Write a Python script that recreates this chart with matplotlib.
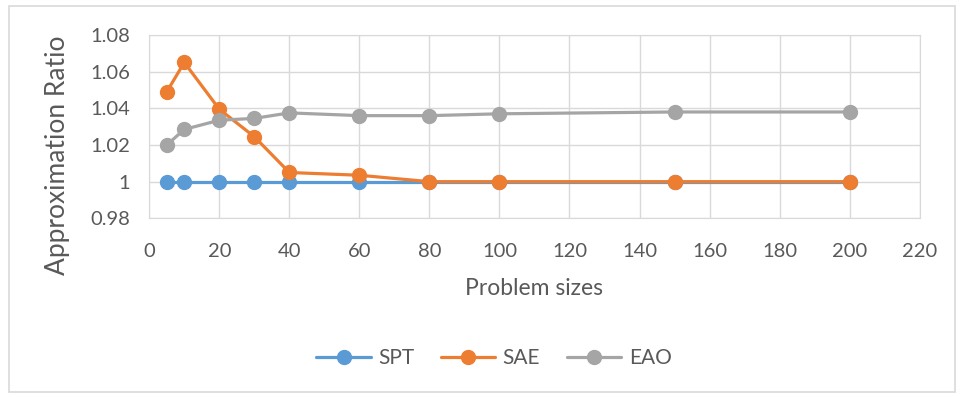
import matplotlib
matplotlib.use("Agg")
from matplotlib import pyplot as plt
from matplotlib.patches import Rectangle
from matplotlib.ticker import FuncFormatter

# problem sizes on the x axis
sizes = [5, 10, 20, 30, 40, 60, 80, 100, 150, 200]

# approximation ratio per method
spt = [1.0, 1.0, 1.0, 1.0, 1.0, 1.0, 1.0, 1.0, 1.0, 1.0]
sae = [1.049, 1.065, 1.0395, 1.0245, 1.005, 1.0035, 1.0, 1.0, 1.0, 1.0]
eao = [1.020, 1.0285, 1.0335, 1.0345, 1.0375, 1.036, 1.036, 1.037, 1.038, 1.038]

series_names = ["SPT", "SAE", "EAO"]
series_colors = ["#5B9BD5", "#ED7D31", "#A5A5A5"]

plt.rcParams['font.family'] = ['Lato', 'DejaVu Sans']
text_color = "#595959"
grid_color = "#D9D9D9"

fig = plt.figure(figsize=(9.63, 3.97), dpi=100)
fig.patches.append(Rectangle((0.009, 0.012), 0.983, 0.972, transform=fig.transFigure,
                             fill=False, edgecolor=grid_color, linewidth=1.2))

ax = fig.add_axes([0.155, 0.450, 0.800, 0.462])

for vals, name, col in zip([spt, sae, eao], series_names, series_colors):
    ax.plot(sizes, vals, color=col, linewidth=2.3, marker="o", markersize=10,
            label=name, solid_capstyle="round", zorder=3)

ax.set_xlim(0, 220)
ax.set_ylim(0.98, 1.08)
ax.set_xticks(range(0, 221, 20))
ax.set_yticks([0.98, 1.0, 1.02, 1.04, 1.06, 1.08])
ax.yaxis.set_major_formatter(FuncFormatter(lambda v, p: f"{v:g}"))
ax.grid(True, color=grid_color, linewidth=1)
ax.set_axisbelow(True)
for s in ax.spines.values():
    s.set_color(grid_color)
ax.tick_params(length=0, labelsize=14.5, colors=text_color)
ax.tick_params(axis="x", pad=18)
ax.tick_params(axis="y", pad=14)

ax.set_xlabel("Problem sizes", fontsize=16.5, color=text_color, labelpad=13)
ax.set_ylabel("Approximation Ratio", fontsize=19, color=text_color)
ax.yaxis.set_label_coords(-0.103, 0.345)

fig.legend(loc="center", bbox_to_anchor=(0.513, 0.098), ncol=3, frameon=False,
           fontsize=15, labelcolor=text_color, handlelength=2.6, columnspacing=1.3,
           handletextpad=0.35)

fig.savefig("out.png", dpi=100)
